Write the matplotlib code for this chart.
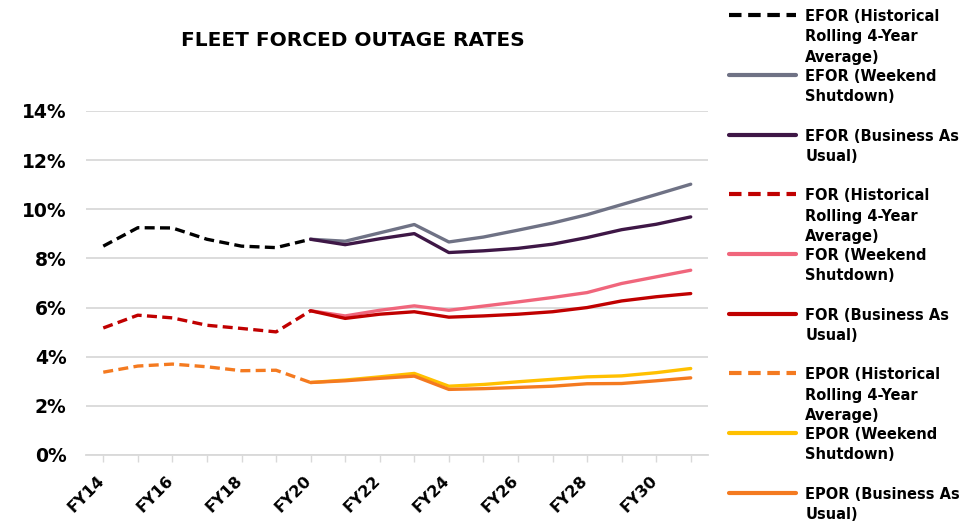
import matplotlib
matplotlib.use("Agg")
import matplotlib.pyplot as plt
from matplotlib.ticker import FuncFormatter, MultipleLocator
from matplotlib.transforms import ScaledTranslation

years = [f"FY{y}" for y in range(14, 32)]
tick_labels = ["FY14", "FY16", "FY18", "FY20", "FY22", "FY24", "FY26", "FY28", "FY30"]

# Historical rolling 4-year average (FY14-FY20)
efor_hist = [8.50, 9.25, 9.24, 8.78, 8.50, 8.44, 8.78]
for_hist = [5.17, 5.69, 5.58, 5.28, 5.15, 5.01, 5.87]
epor_hist = [3.37, 3.62, 3.70, 3.59, 3.43, 3.45, 2.95]

# Projections (FY20-FY31)
efor_wknd = [8.78, 8.70, 9.04, 9.38, 8.67, 8.87, 9.15, 9.44, 9.78, 10.19, 10.60, 11.02]
efor_bau = [8.78, 8.56, 8.80, 9.01, 8.24, 8.31, 8.41, 8.58, 8.85, 9.17, 9.39, 9.69]
for_wknd = [5.87, 5.66, 5.89, 6.07, 5.89, 6.06, 6.23, 6.41, 6.61, 6.98, 7.25, 7.52]
for_bau = [5.87, 5.56, 5.73, 5.83, 5.61, 5.66, 5.73, 5.83, 6.00, 6.27, 6.44, 6.57]
epor_wknd = [2.95, 3.05, 3.18, 3.32, 2.80, 2.87, 2.98, 3.08, 3.18, 3.22, 3.35, 3.52]
epor_bau = [2.95, 3.02, 3.12, 3.21, 2.67, 2.70, 2.75, 2.80, 2.90, 2.91, 3.02, 3.14]

labels = [
    "EFOR (Historical\nRolling 4-Year\nAverage)",
    "EFOR (Weekend\nShutdown)\n",
    "EFOR (Business As\nUsual)\n",
    "FOR (Historical\nRolling 4-Year\nAverage)",
    "FOR (Weekend\nShutdown)\n",
    "FOR (Business As\nUsual)\n",
    "EPOR (Historical\nRolling 4-Year\nAverage)",
    "EPOR (Weekend\nShutdown)\n",
    "EPOR (Business As\nUsual)",
]

FONT = "DejaVu Sans"
plt.rcParams["font.family"] = [FONT]

fig = plt.figure(figsize=(9.72, 5.26), dpi=100)
ax = fig.add_axes([86 / 972, 1 - 455 / 526, (708 - 86) / 972, (455 - 111) / 526])

x_hist = list(range(0, 7))
x_proj = list(range(6, 18))

lw = 2.4
dash = (3.0, 1.6)
series = [
    (x_hist, efor_hist, "#000000", True),
    (x_proj, efor_wknd, "#6F7285", False),
    (x_proj, efor_bau, "#3E1746", False),
    (x_hist, for_hist, "#C00000", True),
    (x_proj, for_wknd, "#F0667C", False),
    (x_proj, for_bau, "#C00000", False),
    (x_hist, epor_hist, "#F47A20", True),
    (x_proj, epor_wknd, "#FFC000", False),
    (x_proj, epor_bau, "#F47A20", False),
]
handles = []
for (xs, ys, c, dashed), lab in zip(series, labels):
    if dashed:
        ln, = ax.plot(xs, [v / 100 for v in ys], color=c, lw=lw, dashes=dash,
                      dash_capstyle="butt", solid_joinstyle="round", zorder=3)
    else:
        ln, = ax.plot(xs, [v / 100 for v in ys], color=c, lw=lw,
                      solid_capstyle="round", solid_joinstyle="round", zorder=3)
    handles.append(ln)

ax.set_xlim(-0.5, 17.5)
ax.set_ylim(0, 0.14)
ax.yaxis.set_major_locator(MultipleLocator(0.02))
ax.yaxis.set_major_formatter(FuncFormatter(lambda v, p: f"{v*100:.0f}%"))
ax.grid(axis="y", color="#D9D9D9", lw=1.3)
ax.set_axisbelow(True)
for s in ["top", "right", "left"]:
    ax.spines[s].set_visible(False)
ax.spines["bottom"].set_color("#D9D9D9")
ax.spines["bottom"].set_linewidth(1.3)

ax.set_xticks(range(len(years)))
ax.set_xticklabels([y if y in tick_labels else "" for y in years],
                   rotation=45, ha="right", rotation_mode="anchor",
                   fontsize=11.5, fontweight="bold", color="#000000")
ax.tick_params(axis="x", length=5, width=1.0, color="#D9D9D9", pad=8)
shift = ScaledTranslation(-7 / 100, 0, fig.dpi_scale_trans)
for t in ax.get_xticklabels():
    t.set_transform(t.get_transform() + shift)
ax.tick_params(axis="y", length=0, pad=14, labelsize=13.5)
for t in ax.get_yticklabels():
    t.set_fontweight("bold")

fig.text(353 / 972, 1 - 40 / 526, "FLEET FORCED OUTAGE RATES", ha="center", va="center",
         fontsize=14.5, fontweight="bold")

leg = fig.legend(handles, labels, loc="upper left", bbox_to_anchor=(722 / 972, 1 - 2 / 526),
                 frameon=False, handlelength=4.6, handleheight=1.1,
                 handletextpad=0.6, labelspacing=0.30, borderpad=0.0,
                 prop={"family": FONT, "weight": "bold", "size": 10.5})
for t in leg.get_texts():
    t.set_linespacing(1.43)
for ln in leg.get_lines():
    ln.set_linewidth(3)
    ln.set_solid_capstyle("round")
# align handles to the first text line
for col in leg._legend_handle_box.get_children():
    for hp in col.get_children():
        hp.align = "top"

fig.savefig("out.png", dpi=100)
